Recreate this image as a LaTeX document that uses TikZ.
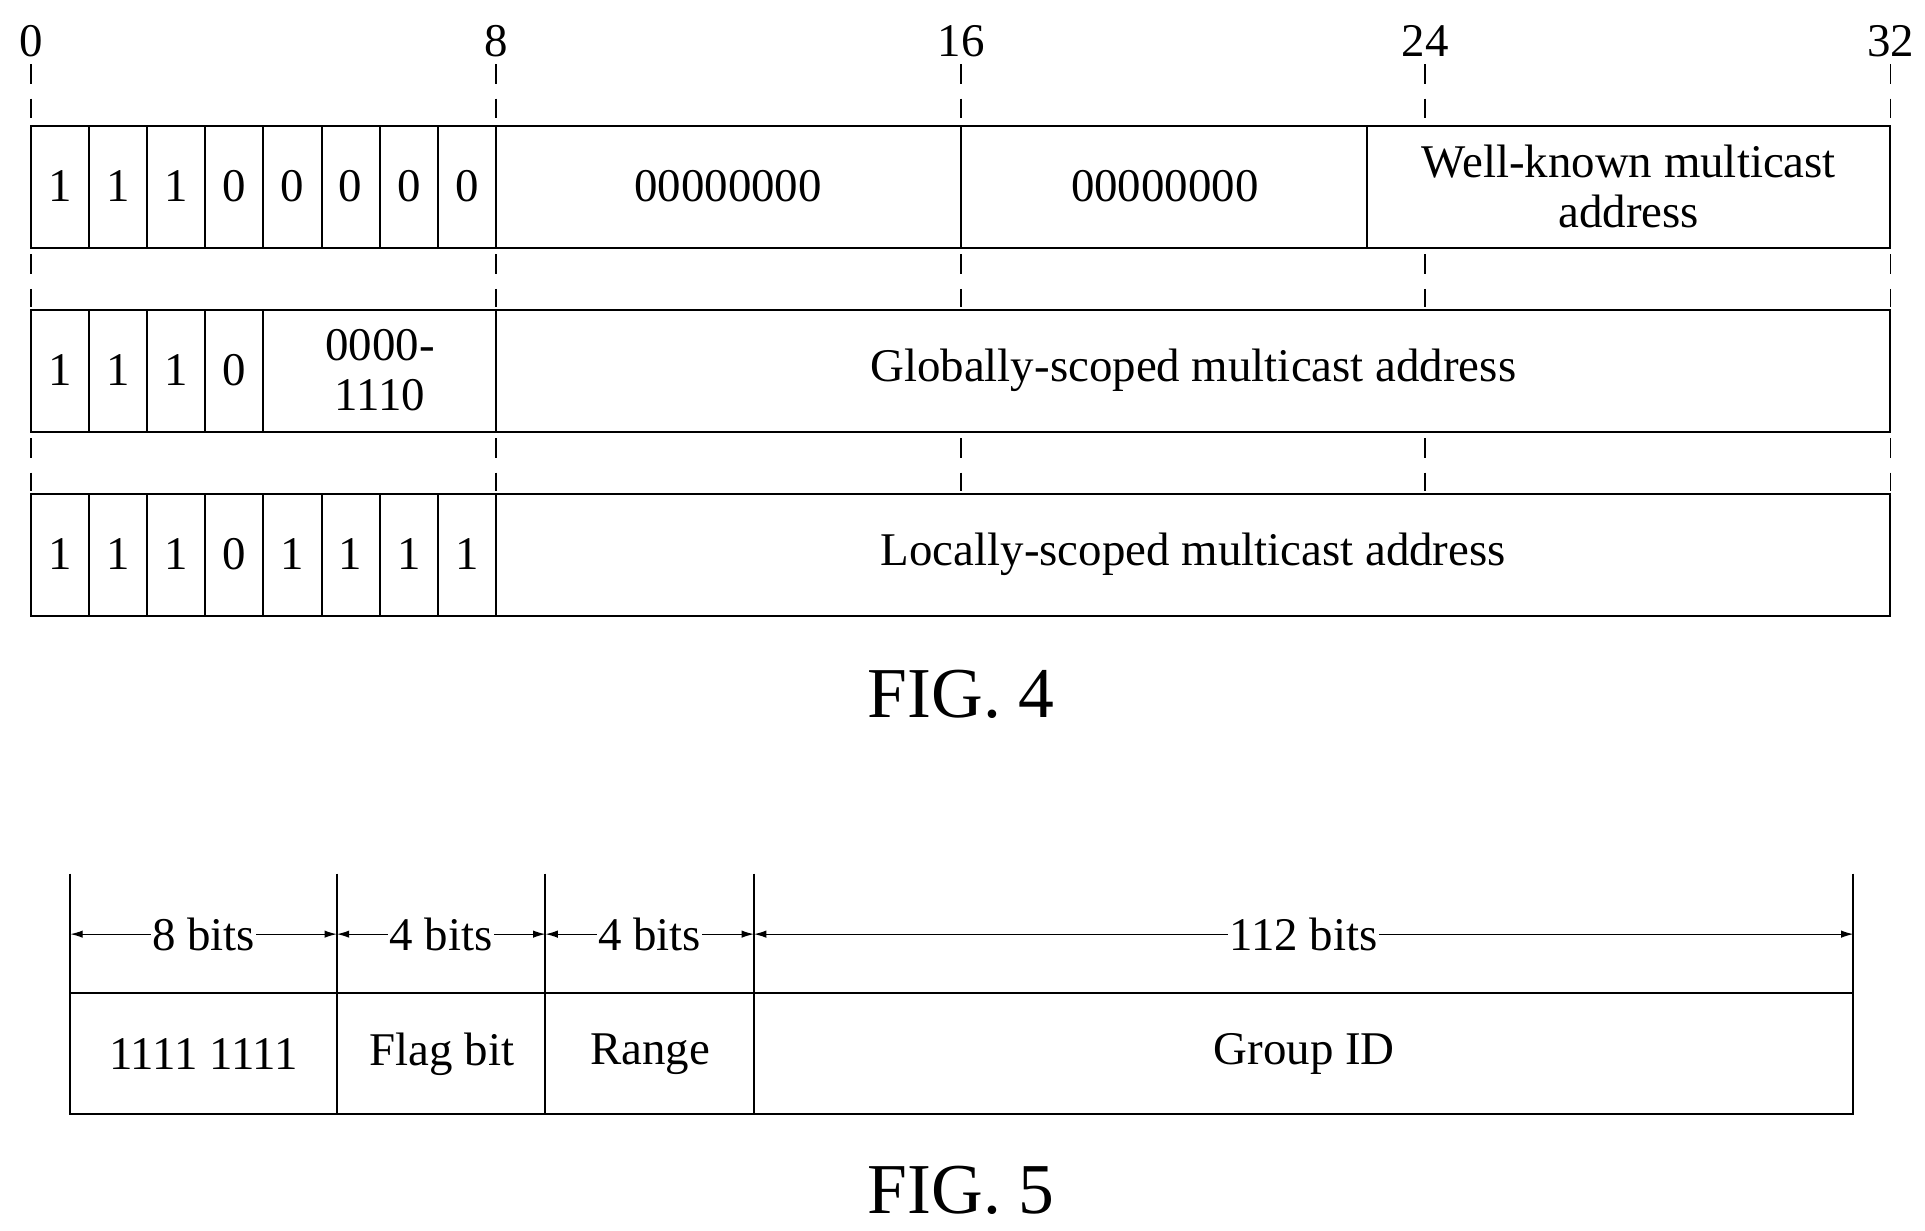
\documentclass[tikz,border=0pt]{standalone}
\usepackage{fontspec}
\setmainfont{Liberation Serif}
\usetikzlibrary{arrows.meta}
\begin{document}
\begin{tikzpicture}[x=1pt,y=-1pt,line width=1.6pt,
  lbl/.style={font=\fontsize{38}{40}\selectfont,inner sep=0pt},
  big/.style={font=\fontsize{58}{60}\selectfont,inner sep=0pt},
  tick/.style={line width=1.4pt,dash pattern=on 16pt off 12pt},
  dim/.style={line width=1pt,{Latex[length=10pt,width=6pt]}-{Latex[length=10pt,width=6pt]}},
  cut/.style={fill=white,inner sep=1pt,font=\fontsize{38}{40}\selectfont}]
\useasboundingbox (0,0) rectangle (1560,997);
% scale labels
\foreach \x/\t in {25/0,402/8,779/16,1155/24,1532/32}{
  \node[lbl] (s\t) at (\x,33) {\t};
  \draw[tick] (\x,52) -- (\x,100);
  \draw[tick] (\x,206) -- (\x,249);
  \draw[tick] (\x,355) -- (\x,398);
}
% rows
\foreach \y in {102,251,400}{\draw (25,\y) rectangle (1532,\y+99);}
% row 1
\foreach \i [count=\k from 0] in {1,1,1,0,0,0,0,0}{
  \pgfmathsetmacro\xa{25+47.125*\k}
  \draw (\xa,102) -- (\xa,201);
  \node[lbl] (a\k) at (\xa+23.5,151) {\i};
}
\draw (402,102) -- (402,201) (779,102) -- (779,201) (1108,102) -- (1108,201);
\node[lbl] (a8) at (590,151) {00000000};
\node[lbl] (a9) at (944,151) {00000000};
\node[lbl,align=center,font=\fontsize{38}{40}\selectfont] (a10) at (1320,151) {Well-known multicast\\address};
% row 2
\foreach \i [count=\k from 0] in {1,1,1,0}{
  \pgfmathsetmacro\xa{25+47.125*\k}
  \draw (\xa,251) -- (\xa,350);
  \node[lbl] (b\k) at (\xa+23.5,300) {\i};
}
\draw (213.5,251) -- (213.5,350) (402,251) -- (402,350);
\node[lbl,align=center,font=\fontsize{38}{40}\selectfont] (b4) at (308,300) {0000-\\1110};
\node[lbl] (b5) at (967,300) {Globally-scoped multicast address};
% row 3
\foreach \i [count=\k from 0] in {1,1,1,0,1,1,1,1}{
  \pgfmathsetmacro\xa{25+47.125*\k}
  \draw (\xa,400) -- (\xa,499);
  \node[lbl] (c\k) at (\xa+23.5,449) {\i};
}
\draw (402,400) -- (402,499);
\node[lbl] (c8) at (967,449) {Locally-scoped multicast address};
\node[big] (f4) at (779,563) {FIG. 4};
% FIG 5
\draw (57,805) rectangle (1502,903);
\foreach \x [count=\k] in {57,273,442,611,1502}{
  \draw (\x,708) -- (\x,903);
  \coordinate (p\k) at (\x,757);
}
\draw[dim] (p1) -- node[cut] {8 bits} (p2);
\draw[dim] (p2) -- node[cut] {4 bits} (p3);
\draw[dim] (p3) -- node[cut] {4 bits} (p4);
\draw[dim] (p4) -- node[cut] {112 bits} (p5);
\node[lbl] (d1) at (165,854) {1111 1111};
\node[lbl] (d2) at (358,854) {Flag bit};
\node[lbl] (d3) at (527,854) {Range};
\node[lbl] (d4) at (1057,854) {Group ID};
\node[big] (f5) at (779,965) {FIG. 5};
\end{tikzpicture}
\end{document}
